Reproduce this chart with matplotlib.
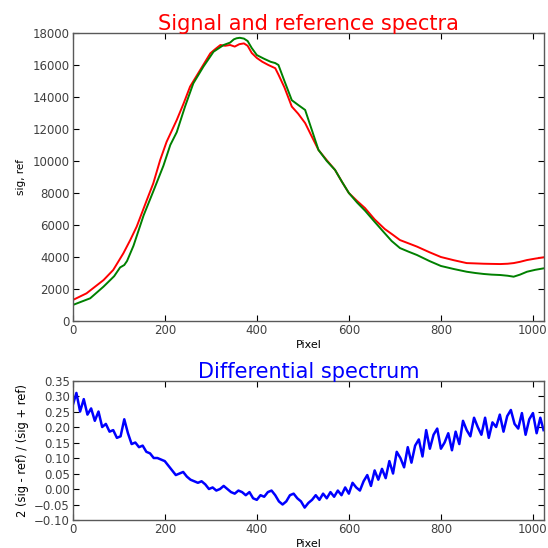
import numpy as np
import matplotlib
matplotlib.use("Agg")
import matplotlib.pyplot as plt

# signal spectrum (red)
sig_x = [0, 30, 67, 88, 110, 125, 139, 161, 175, 190, 204, 226, 241, 255, 277, 299,
         310, 321, 331, 342, 352, 362, 372, 380, 389, 400, 412, 425, 440, 447, 460,
         476, 490, 505, 520, 534, 552, 570, 585, 600, 618, 635, 656, 678, 695, 711,
         730, 748, 775, 800, 828, 856, 875, 893, 910, 929, 945, 958, 972, 987, 1005, 1023]
sig_y = [1310, 1730, 2560, 3190, 4230, 5060, 5900, 7560, 8600, 10060, 11200, 12560,
         13600, 14650, 15690, 16730, 17000, 17250, 17200, 17250, 17150, 17300, 17350,
         17200, 16750, 16440, 16200, 16000, 15800, 15400, 14600, 13400, 12950, 12370,
         11500, 10690, 10050, 9440, 8700, 8000, 7500, 7060, 6350, 5750, 5400, 5060,
         4850, 4650, 4300, 4000, 3800, 3620, 3600, 3580, 3570, 3560, 3580, 3620, 3700,
         3810, 3900, 3980]

# reference spectrum (green)
ref_x = [0, 38, 67, 90, 103, 112, 118, 132, 154, 175, 197, 212, 226, 244, 262, 284,
         306, 320, 328, 342, 350, 356, 363, 372, 380, 389, 400, 415, 430, 440, 447,
         460, 476, 490, 505, 520, 534, 552, 570, 585, 600, 618, 635, 656, 675, 693,
         711, 730, 748, 775, 800, 828, 856, 875, 893, 910, 929, 945, 958, 972, 987,
         1005, 1023]
ref_y = [1000, 1420, 2150, 2800, 3350, 3500, 3750, 4700, 6600, 8100, 9700, 11000,
         11800, 13400, 14850, 15900, 16830, 17100, 17250, 17400, 17600, 17670, 17700,
         17650, 17500, 17060, 16620, 16400, 16200, 16120, 16000, 15000, 13800, 13500,
         13190, 11900, 10690, 10000, 9440, 8700, 8000, 7400, 6900, 6200, 5580, 5000,
         4560, 4330, 4125, 3750, 3440, 3250, 3080, 3000, 2940, 2900, 2875, 2830, 2770,
         2900, 3080, 3200, 3290]

# differential spectrum (blue), every 8 pixels
diff_x = list(range(0, 1017, 8)) + [1023]
diff_y = [0.27, 0.31, 0.25, 0.29, 0.24, 0.26, 0.22, 0.25, 0.20, 0.21, 0.185, 0.19,
          0.165, 0.17, 0.225, 0.18, 0.145, 0.15, 0.135, 0.14, 0.12, 0.115, 0.10, 0.10,
          0.095, 0.09, 0.075, 0.06, 0.045, 0.05, 0.055, 0.04, 0.03, 0.025, 0.02, 0.025,
          0.015, 0.0, 0.005, -0.005, 0.0, 0.01, 0.0, -0.01, -0.015, -0.005, -0.01,
          -0.02, -0.01, -0.03, -0.035, -0.02, -0.025, -0.01, -0.005, -0.02, -0.04,
          -0.05, -0.04, -0.02, -0.015, -0.03, -0.04, -0.06, -0.045, -0.035, -0.02,
          -0.035, -0.015, -0.03, -0.01, -0.025, -0.005, -0.02, 0.005,
          -0.015, 0.02, 0.005, -0.005, 0.025, 0.045, 0.01, 0.06, 0.03, 0.065,
          0.035, 0.09, 0.05, 0.12, 0.1, 0.07, 0.135, 0.085, 0.14, 0.16,
          0.105, 0.19, 0.13, 0.175, 0.195, 0.13, 0.15, 0.18, 0.125, 0.185,
          0.145, 0.22, 0.19, 0.17, 0.23, 0.2, 0.175, 0.23, 0.165, 0.215,
          0.2, 0.24, 0.185, 0.235, 0.255, 0.21, 0.195, 0.245, 0.175, 0.225,
          0.245, 0.18, 0.23, 0.19]

fig = plt.figure(figsize=(5.48, 5.48), dpi=100)
ax1 = fig.add_axes([0.1327, 0.4142, 0.86, 0.5256])
ax2 = fig.add_axes([0.1327, 0.0511, 0.86, 0.2545])

ax1.plot(sig_x, sig_y, color="red", lw=1.4)
ax1.plot(ref_x, ref_y, color="green", lw=1.4)
ax1.set_xlim(0, 1024)
ax1.set_ylim(0, 18000)
ax1.set_yticks(range(0, 18001, 2000))
ax1.set_xlabel("Pixel", fontsize=8, labelpad=2)
ax1.set_ylabel("sig, ref", fontsize=7.5, labelpad=5)
ax1.set_title("Signal and reference spectra", color="red", fontsize=15, pad=2)

ax2.plot(diff_x, diff_y, color="blue", lw=1.8)
ax2.set_xlim(0, 1024)
ax2.set_ylim(-0.10, 0.35)
ax2.set_yticks([-0.10, -0.05, 0.0, 0.05, 0.10, 0.15, 0.20, 0.25, 0.30, 0.35])
ax2.set_xlabel("Pixel", fontsize=8, labelpad=2)
ax2.set_ylabel("2 (sig - ref) / (sig + ref)", fontsize=8.3, labelpad=4)
ax2.set_title("Differential spectrum", color="blue", fontsize=15, pad=2)

for ax in (ax1, ax2):
    ax.tick_params(direction="in", top=True, right=True, labelsize=8.5, length=4,
                   pad=2, labelcolor="0.25")
    for s in ax.spines.values():
        s.set_color("0.35")
        s.set_linewidth(1.0)

fig.savefig("out.png", dpi=100, facecolor="white")
